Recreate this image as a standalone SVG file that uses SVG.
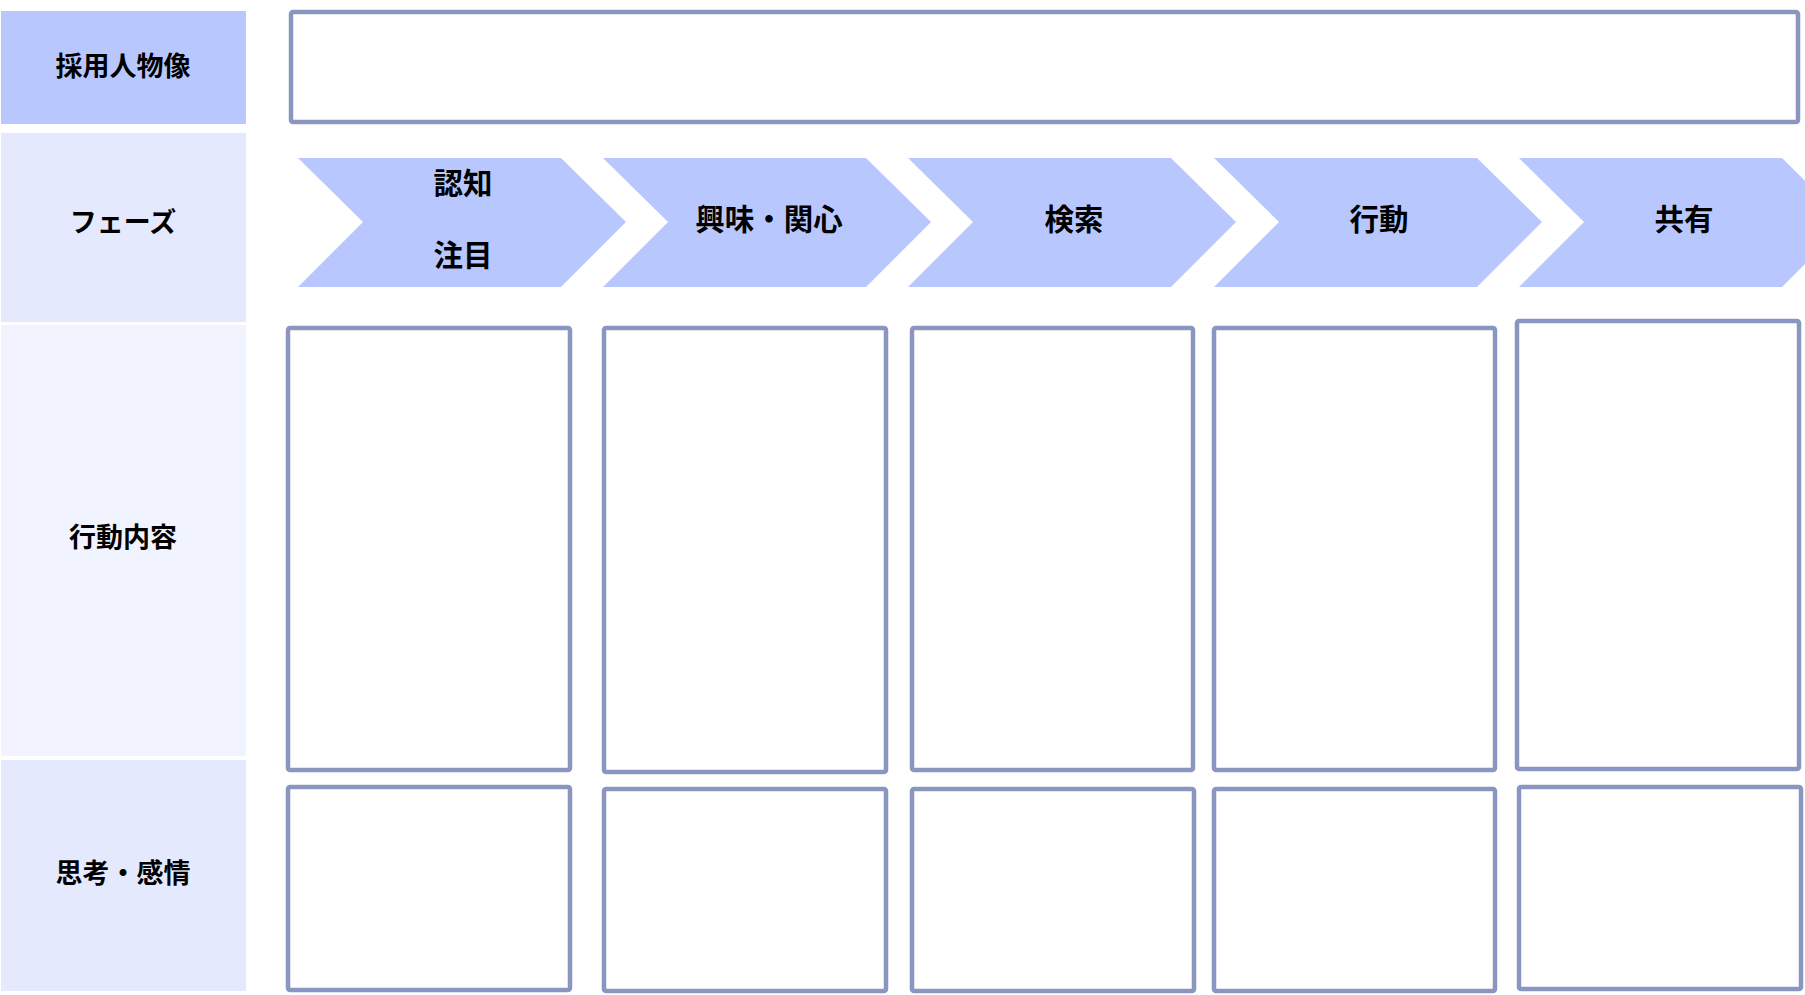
<svg xmlns="http://www.w3.org/2000/svg" width="1805" height="995" viewBox="0 0 1805 995">
<style>
.lbl{font-family:"Noto Sans CJK JP","Noto Sans",sans-serif;font-weight:bold;fill:#000;text-anchor:middle;dominant-baseline:central}
.side{font-size:27px}
.ph{font-size:29.5px}
.box{fill:#fff;stroke:#8a95c0;stroke-width:4.5}
.chev{fill:#b8c8fe}
</style>
<rect width="1805" height="995" fill="#fff"/>
<g id="row-labels">
<g id="label-persona"><rect x="1" y="11" width="245" height="113" fill="#b8c8fe"/><text class="lbl side" x="123" y="64">採用人物像</text></g>
<g id="label-phase"><rect x="1" y="133" width="245" height="189" fill="#e4e9fe"/><text class="lbl side" x="123" y="220">フェーズ</text></g>
<g id="label-action"><rect x="1" y="325" width="245" height="431" fill="#f1f4fe"/><text class="lbl side" x="123" y="535">行動内容</text></g>
<g id="label-emotion"><rect x="1" y="760" width="245" height="231" fill="#e4e9fe"/><text class="lbl side" x="123" y="871">思考・感情</text></g>
</g>
<g id="persona-box"><rect class="box" x="291" y="12" width="1507" height="110" rx="2"/></g>
<g id="phases">
<g id="phase-1"><polygon class="chev" points="298,158 561,158 626,222 561,287 298,287 363,222"/><text class="lbl ph" x="463" y="181">認知</text><text class="lbl ph" x="463" y="253">注目</text></g>
<g id="phase-2"><polygon class="chev" points="603,158 866,158 931,222 866,287 603,287 668,222"/><text class="lbl ph" x="769" y="217">興味・関心</text></g>
<g id="phase-3"><polygon class="chev" points="908,158 1171,158 1236,222 1171,287 908,287 973,222"/><text class="lbl ph" x="1074" y="217">検索</text></g>
<g id="phase-4"><polygon class="chev" points="1214,158 1477,158 1542,222 1477,287 1214,287 1279,222"/><text class="lbl ph" x="1379" y="217">行動</text></g>
<g id="phase-5"><polygon class="chev" points="1519,158 1782,158 1847,222 1782,287 1519,287 1584,222"/><text class="lbl ph" x="1684" y="217">共有</text></g>
</g>
<g id="action-boxes">
<rect id="action-1" class="box" x="288" y="328" width="282" height="442" rx="2"/>
<rect id="action-2" class="box" x="604" y="328" width="282" height="444" rx="2"/>
<rect id="action-3" class="box" x="912" y="328" width="281" height="442" rx="2"/>
<rect id="action-4" class="box" x="1214" y="328" width="281" height="442" rx="2"/>
<rect id="action-5" class="box" x="1517" y="321" width="282" height="448" rx="2"/>
</g>
<g id="emotion-boxes">
<rect id="emotion-1" class="box" x="288" y="787" width="282" height="203" rx="2"/>
<rect id="emotion-2" class="box" x="604" y="789" width="282" height="202" rx="2"/>
<rect id="emotion-3" class="box" x="912" y="789" width="282" height="202" rx="2"/>
<rect id="emotion-4" class="box" x="1214" y="789" width="281" height="202" rx="2"/>
<rect id="emotion-5" class="box" x="1519" y="787" width="282" height="202" rx="2"/>
</g>
<g id="connectors"/>
</svg>
